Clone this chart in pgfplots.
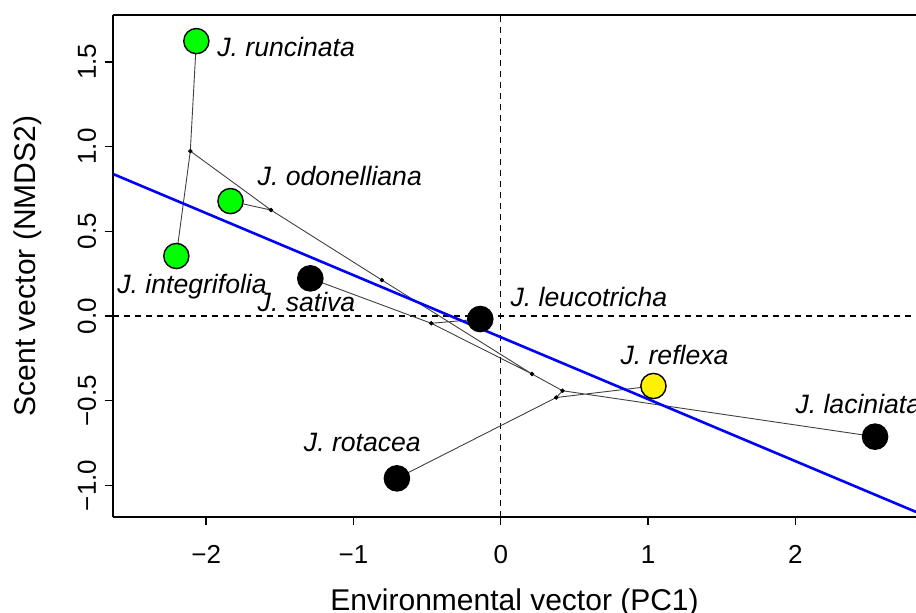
\documentclass[border=0pt]{standalone}
\usepackage{fontspec}
\setmainfont{Liberation Sans}
\usepackage{pgfplots}
\pgfplotsset{compat=1.18}

\begin{document}
\begin{tikzpicture}
\begin{axis}[
    scale only axis, width=401.5pt, height=251pt,
    at={(0,0)}, anchor=south west,
    xmin=-2.633, xmax=2.820, ymin=-1.186, ymax=1.776,
    axis lines*=left, axis line style={-, line width=0.75pt},
    tick align=outside, major tick length=4pt,
    tick style={black, line width=0.75pt},
    xtick={-2,-1,0,1,2}, xticklabels={−2,−1,0,1,2},
    ytick={-1,-0.5,0,0.5,1,1.5}, yticklabels={−1.0,−0.5,0.0,0.5,1.0,1.5},
    tick label style={font=\fontsize{13}{15}\selectfont},
    xticklabel style={anchor=north, inner sep=0pt, inner ysep=10pt},
    yticklabel style={rotate=90, anchor=south, inner xsep=0pt, inner ysep=4.2pt},
    label style={font=\fontsize{15}{18}\selectfont},
    xlabel={Environmental vector (PC1)},
    ylabel={Scent vector (NMDS2)},
    xlabel style={at={([yshift=-46.5pt]axis description cs:0.5,0)}, anchor=base},
    ylabel style={at={([xshift=-38.75pt]axis description cs:0,0.5)}, anchor=base},
    clip mode=individual,
]
% reference lines
\addplot[black, line width=0.6pt, dash pattern=on 3pt off 2.5pt] coordinates {(0,-1.186) (0,1.776)};
\addplot[black, line width=0.6pt, dash pattern=on 3pt off 2.5pt] coordinates {(-2.633,0) (2.820,0)};

% tree edges
\addplot[black!75, line width=0.45pt, unbounded coords=jump] coordinates {
    (-2.067,1.622) (-2.108,0.973) (-2.203,0.354)
    (nan,nan)
    (-2.108,0.973) (-1.560,0.625) (-1.835,0.678)
    (nan,nan)
    (-1.560,0.625) (-0.807,0.212) (0.212,-0.342) (-0.472,-0.043) (-1.293,0.222)
    (nan,nan)
    (-0.472,-0.043) (-0.139,-0.018)
    (nan,nan)
    (0.212,-0.342) (0.420,-0.441) (0.377,-0.481) (-0.705,-0.958)
    (nan,nan)
    (0.420,-0.441) (2.542,-0.712)
    (nan,nan)
    (0.377,-0.481) (1.037,-0.413)
};

% regression line
\addplot[blue, line width=1.3pt] coordinates {(-2.633,0.838) (2.820,-1.156)};

% internal nodes
\addplot[only marks, mark=*, mark size=0.9pt, black] coordinates {
    (-2.108,0.973) (-1.560,0.625) (-0.807,0.212) (-0.472,-0.043)
    (0.212,-0.342) (0.420,-0.441) (0.377,-0.481)
};

% tips
\addplot[only marks, mark=*, mark size=6.3pt, mark options={draw=black, fill=green, line width=0.7pt}] coordinates {
    (-2.067,1.622) (-1.835,0.678) (-2.203,0.354)
};
\addplot[only marks, mark=*, mark size=6.3pt, mark options={draw=black, fill=yellow, line width=0.7pt}] coordinates {
    (1.037,-0.413)
};
\addplot[only marks, mark=*, mark size=6.3pt, mark options={draw=black, fill=black, line width=0.7pt}] coordinates {
    (-1.293,0.222) (-0.139,-0.018) (2.542,-0.712) (-0.705,-0.958)
};

% species labels
\begin{scope}[every node/.style={anchor=base west, inner sep=0pt, font=\fontsize{13.3}{16}\selectfont\itshape}]
\node at (axis cs:-1.927,1.530) {J. runcinata};
\node at (axis cs:-1.653,0.769) {J. odonelliana};
\node at (axis cs:-2.606,0.134) {J. integrifolia};
\node at (axis cs:-1.653,0.024) {J. sativa};
\node at (axis cs:0.064,0.055) {J. leucotricha};
\node at (axis cs:0.811,-0.289) {J. reflexa};
\node at (axis cs:1.999,-0.574) {J. laciniata};
\node at (axis cs:-1.339,-0.801) {J. rotacea};
\end{scope}
\end{axis}
\draw[line width=0.75pt] (current axis.north west) -- (current axis.north east);
\pgfresetboundingbox
\path[use as bounding box] ([shift={(-56.5pt,-47.5pt)}]current axis.south west) rectangle ([shift={(0pt,7.5pt)}]current axis.north east);
\end{tikzpicture}
\end{document}
